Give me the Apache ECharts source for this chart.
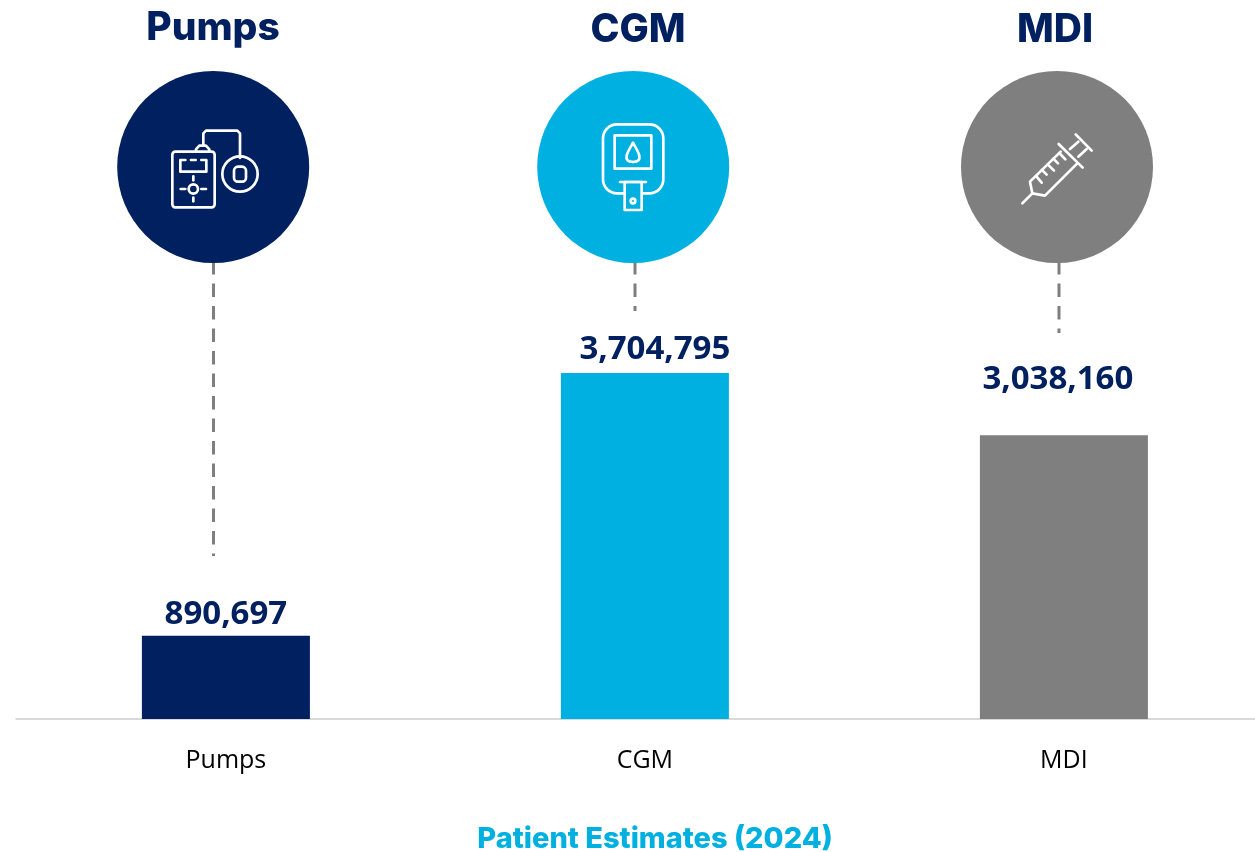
<!DOCTYPE html>
<html>
<head>
<meta charset="utf-8">
<style>
  html, body { margin: 0; padding: 0; background: #fff; }
  #chart { width: 1255px; height: 852px; }
</style>
</head>
<body>
<div id="chart"></div>
<script src="https://cdn.jsdelivr.net/npm/echarts@6/dist/echarts.min.js"></script>
<script>
const categories = ["Pumps", "CGM", "MDI"]
const patients = [890697, 3704795, 3038160]
const chartTitle = "Patient Estimates (2024)"

const NAVY = "#002060"
const CYAN = "#00B0E0"
const GREY = "#7F7F7F"
const colors = [NAVY, CYAN, GREY]
const labelShift = [[0, 0], [10, -2], [-6, -34]]

const chart = echarts.init(document.getElementById("chart"))

const white = { stroke: "#fff", lineWidth: 8, fill: null, lineCap: "round", lineJoin: "round" }

function seg(x1, y1, x2, y2) {
  return { type: "line", shape: { x1, y1, x2, y2 }, style: white }
}
function poly(points) {
  return { type: "polyline", shape: { points }, style: white }
}
function box(x, y, w, h, r, fill) {
  return { type: "rect", shape: { x, y, width: w, height: h, r: r || 0 }, style: { ...white, fill: fill || null } }
}
function ring(cx, cy, r) {
  return { type: "circle", shape: { cx, cy, r }, style: white }
}
function icon(x, children) {
  return { type: "group", x, y: 0, scaleX: 1 / 3, scaleY: 1 / 3, children }
}

const pumpIcon = icon(110, [
  box(187, 455, 127, 167, 9),
  poly([[258, 455], [258, 448], [268, 437], [288, 437], [298, 448], [298, 455]]),
  poly([[280, 437], [280, 400], [288, 392], [382, 392], [390, 400], [390, 474]]),
  ring(390, 522, 53),
  box(372, 500, 36, 45, 12),
  poly([[226, 480], [211, 480], [211, 515], [289, 515], [289, 480], [274, 480]]),
  seg(243, 480, 257, 480),
  ring(250, 567, 14),
  seg(212, 567, 226, 567), seg(274, 567, 288, 567),
  seg(250, 529, 250, 541), seg(250, 593, 250, 604)
])

const cgmIcon = icon(530, [
  box(219, 373, 181, 207, 42),
  box(254, 406, 110, 100),
  { type: "bezierCurve", shape: { x1: 309, y1: 429, x2: 309, y2: 486, cpx1: 300, cpy1: 445, cpx2: 270, cpy2: 486 }, style: white },
  { type: "bezierCurve", shape: { x1: 309, y1: 429, x2: 309, y2: 486, cpx1: 318, cpy1: 445, cpx2: 348, cpy2: 486 }, style: white },
  box(284, 546, 51, 84, 0, CYAN),
  seg(270, 546, 348, 546),
  ring(309, 603, 7)
])

const mdiIcon = icon(950, [
  seg(217, 610, 247, 580),
  poly([[247, 580], [240, 545], [332, 455]]),
  poly([[247, 580], [285, 587], [382, 490]]),
  seg(326, 432, 398, 503),
  seg(385, 425, 360, 447), seg(410, 447, 385, 470),
  seg(377, 403, 425, 452),
  seg(258, 528, 275, 548), seg(276, 510, 290, 524), seg(293, 493, 312, 512),
  seg(310, 476, 324, 490), seg(328, 459, 346, 478)
])

function guide(x, y2) {
  return {
    type: "line",
    shape: { x1: x, y1: 261, x2: x, y2 },
    style: { stroke: GREY, lineWidth: 3, lineDash: [13.5, 9] }
  }
}
function disc(cx, fill) {
  return { type: "circle", shape: { cx, cy: 167, r: 96 }, style: { fill } }
}
function heading(x, y, text) {
  return {
    type: "text", x, y,
    style: { text, fill: NAVY, font: "800 39px Inter", textAlign: "center", textVerticalAlign: "middle" }
  }
}

chart.setOption({
  animation: false,
  backgroundColor: "#fff",
  title: {
    text: chartTitle,
    left: 650,
    top: 820,
    textAlign: "center",
    textStyle: { color: CYAN, fontFamily: "Inter", fontWeight: 800, fontSize: 29 }
  },
  grid: { left: 16.4, width: 1257, top: 345.5, bottom: 133, outerBoundsMode: "none" },
  xAxis: {
    type: "category",
    data: categories,
    axisTick: { show: false },
    axisLine: { lineStyle: { color: "#D9D9D9", width: 2 } },
    axisLabel: { color: "#000", fontFamily: "Open Sans", fontSize: 25, margin: 29 }
  },
  yAxis: { type: "value", min: 0, max: 4000000, show: false },
  series: [{
    type: "bar",
    barWidth: 168,
    data: patients.map((value, i) => ({
      value,
      itemStyle: { color: colors[i] },
      label: { offset: labelShift[i] }
    })),
    label: {
      show: true,
      position: "top",
      distance: 5,
      color: NAVY,
      fontFamily: "Open Sans",
      fontWeight: 700,
      fontSize: 33,
      formatter: p => p.value.toLocaleString("en-US")
    }
  }],
  graphic: [
    guide(213.5, 556), guide(635, 311), guide(1059, 333),
    disc(213.2, NAVY), disc(633.2, CYAN), disc(1057, GREY),
    heading(213, 28, categories[0]), heading(638, 30, categories[1]), heading(1055, 30, categories[2]),
    pumpIcon, cgmIcon, mdiIcon
  ]
})
</script>
</body>
</html>
